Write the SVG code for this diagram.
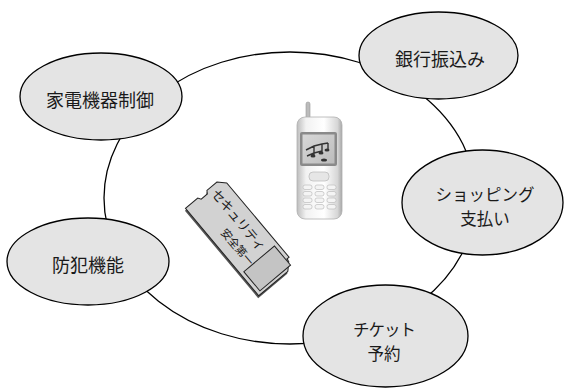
<svg xmlns="http://www.w3.org/2000/svg" width="565" height="388" viewBox="0 0 565 388">
  <style>
    .node { fill: #e4e4e4; stroke: #000; stroke-width: 1.3; }
    .ring { fill: none; stroke: #000; stroke-width: 1.3; }
    .label { font-family: "Noto Sans CJK JP", "Noto Sans", sans-serif; font-size: 18px; fill: #1a1a1a; text-anchor: middle; dominant-baseline: central; }
    .label2 { font-size: 16.5px; }
    .card-text { font-family: "Noto Sans CJK JP", sans-serif; fill: #1a1a1a; text-anchor: middle; dominant-baseline: central; }
    .key { fill: #f4f4f4; stroke: #bdbdbd; stroke-width: 0.7; }
  </style>
  <defs>
    <linearGradient id="phoneBody" x1="0" y1="0" x2="1" y2="0">
      <stop offset="0" stop-color="#bdbdbd"/>
      <stop offset="0.2" stop-color="#f2f2f2"/>
      <stop offset="0.6" stop-color="#ffffff"/>
      <stop offset="0.9" stop-color="#d6d6d6"/>
      <stop offset="1" stop-color="#a8a8a8"/>
    </linearGradient>
    <linearGradient id="screenGlass" x1="0" y1="0" x2="1" y2="1">
      <stop offset="0" stop-color="#d8d8d8"/>
      <stop offset="1" stop-color="#bcbcbc"/>
    </linearGradient>
    <path id="cardShape" d="M-64 -17 L-57 -24 L40 -24 L40 -21 L43 -21 L50 -14 L50 24 L-64 24 L-64 8 L-61 6 L-61 -2 L-64 -4 Z"/>
  </defs>

  <rect width="565" height="388" fill="#fff"/>

  <!-- ring linking every service -->
  <g id="connectors">
    <ellipse class="ring" cx="290" cy="198" rx="186" ry="146"/>
  </g>

  <!-- handset -->
  <g id="phone">
    <rect x="306" y="102" width="4" height="20" rx="2" fill="#bbb" stroke="#999" stroke-width="0.6"/>
    <rect x="297" y="117" width="45" height="102" rx="8" fill="url(#phoneBody)" stroke="#b0b0b0" stroke-width="0.8"/>
    <rect x="300" y="132" width="37" height="34" rx="2" fill="#8a8a8a"/>
    <rect x="302.5" y="134.5" width="32" height="29" fill="url(#screenGlass)"/>
    <path d="M306 150 l8 -4 l8 -2 l6 -1 M307 156 l7 -3 l8 -2 M314 146 v9 M322 144 v8 M328 143 v7" fill="none" stroke="#333" stroke-width="1.4"/>
    <ellipse cx="313" cy="156" rx="2.5" ry="1.6" fill="#333"/>
    <ellipse cx="321" cy="153" rx="2.5" ry="1.6" fill="#333"/>
    <ellipse cx="327" cy="150" rx="2.5" ry="1.6" fill="#333"/>
    <ellipse cx="324" cy="160" rx="3" ry="1.6" fill="#333"/>
    <rect x="309" y="172" width="20" height="9" rx="4" fill="#e6e6e6" stroke="#b8b8b8" stroke-width="0.7"/>
    <g>
      <rect class="key" x="303" y="185" width="9" height="4.5" rx="2"/>
      <rect class="key" x="315" y="185" width="9" height="4.5" rx="2"/>
      <rect class="key" x="327" y="185" width="9" height="4.5" rx="2"/>
      <rect class="key" x="303" y="191.5" width="9" height="4.5" rx="2"/>
      <rect class="key" x="315" y="191.5" width="9" height="4.5" rx="2"/>
      <rect class="key" x="327" y="191.5" width="9" height="4.5" rx="2"/>
      <rect class="key" x="303" y="198" width="9" height="4.5" rx="2"/>
      <rect class="key" x="315" y="198" width="9" height="4.5" rx="2"/>
      <rect class="key" x="327" y="198" width="9" height="4.5" rx="2"/>
      <rect class="key" x="303" y="204.5" width="9" height="4.5" rx="2"/>
      <rect class="key" x="315" y="204.5" width="9" height="4.5" rx="2"/>
      <rect class="key" x="327" y="204.5" width="9" height="4.5" rx="2"/>
    </g>
  </g>

  <!-- memory card, drawn along its own axis then turned -->
  <g id="card" transform="translate(245 242) rotate(50)">
    <use href="#cardShape" fill="#555" transform="translate(1.5 2)"/>
    <use href="#cardShape" fill="#d2d2d2" stroke="#222" stroke-width="1"/>
    <rect x="22" y="-20" width="25" height="40" fill="#c4c4c4" stroke="#222" stroke-width="1"/>
    <text class="card-text" x="-21" y="-10" font-size="13" letter-spacing="-0.3">セキュリティ</text>
    <text class="card-text" x="-1" y="8" font-size="11">安全第一</text>
  </g>

  <g id="node-kaden">
    <ellipse class="node" cx="101" cy="96.5" rx="81" ry="43.5"/>
    <text class="label" x="100" y="99">家電機器制御</text>
  </g>

  <g id="node-ginko">
    <ellipse class="node" cx="438.5" cy="55.5" rx="79.5" ry="43.5"/>
    <text class="label" x="440" y="58">銀行振込み</text>
  </g>

  <g id="node-shopping">
    <ellipse class="node" cx="482.5" cy="202.5" rx="80.5" ry="52.5"/>
    <text class="label label2" x="485" y="194">ショッピング</text>
    <text class="label label2" x="485" y="218">支払い</text>
  </g>

  <g id="node-ticket">
    <ellipse class="node" cx="385.5" cy="336" rx="82.5" ry="51"/>
    <text class="label label2" x="384" y="329" letter-spacing="-1">チケット</text>
    <text class="label label2" x="384" y="353">予約</text>
  </g>

  <g id="node-bohan">
    <ellipse class="node" cx="88" cy="261.5" rx="81" ry="43.5"/>
    <text class="label" x="88" y="264">防犯機能</text>
  </g>
</svg>
